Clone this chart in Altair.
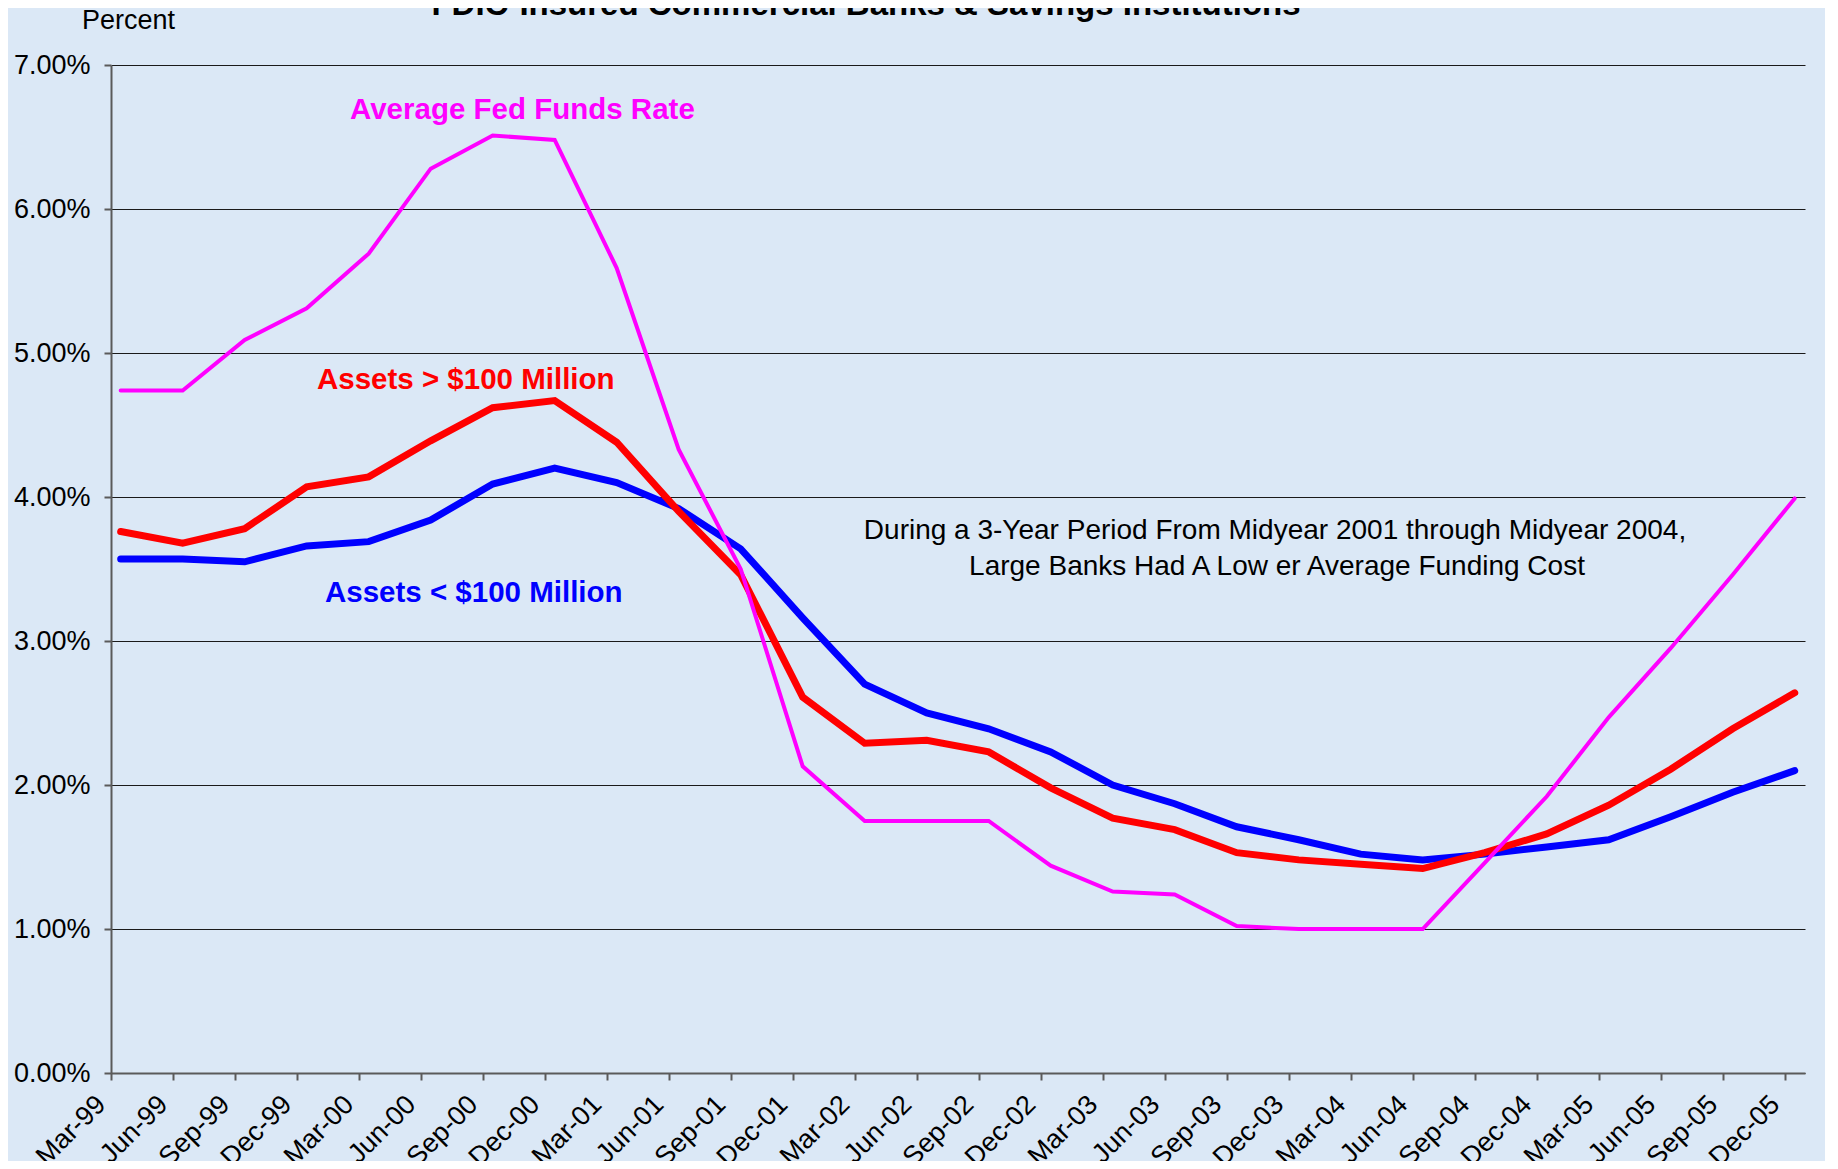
import json
import altair as alt
import pandas as pd

quarters = ["Mar-99", "Jun-99", "Sep-99", "Dec-99",
            "Mar-00", "Jun-00", "Sep-00", "Dec-00",
            "Mar-01", "Jun-01", "Sep-01", "Dec-01",
            "Mar-02", "Jun-02", "Sep-02", "Dec-02",
            "Mar-03", "Jun-03", "Sep-03", "Dec-03",
            "Mar-04", "Jun-04", "Sep-04", "Dec-04",
            "Mar-05", "Jun-05", "Sep-05", "Dec-05"]

fed_funds = [4.74, 4.74, 5.09, 5.31, 5.69, 6.28, 6.51, 6.48,
             5.59, 4.33, 3.50, 2.13, 1.75, 1.75, 1.75, 1.44,
             1.26, 1.24, 1.02, 1.00, 1.00, 1.00, 1.46, 1.92,
             2.47, 2.95, 3.46, 3.99]

large_banks = [3.76, 3.68, 3.78, 4.07, 4.14, 4.39, 4.62, 4.67,
               4.38, 3.90, 3.46, 2.61, 2.29, 2.31, 2.23, 1.98,
               1.77, 1.69, 1.53, 1.48, 1.45, 1.42, 1.53, 1.66,
               1.86, 2.11, 2.39, 2.64]

small_banks = [3.57, 3.57, 3.55, 3.66, 3.69, 3.84, 4.09, 4.20,
               4.10, 3.92, 3.64, 3.16, 2.70, 2.50, 2.39, 2.23,
               2.00, 1.87, 1.71, 1.62, 1.52, 1.48, 1.52, 1.57,
               1.62, 1.78, 1.95, 2.10]

series_names = ["Average Fed Funds Rate", "Assets > $100 Million", "Assets < $100 Million"]

frames = []
for name, vals in zip(series_names, [fed_funds, large_banks, small_banks]):
    frames.append(pd.DataFrame({"idx": list(range(len(quarters))),
                                "quarter": quarters,
                                "series": name,
                                "value": vals}))
df = pd.concat(frames, ignore_index=True)

FONT = "Liberation Sans"
OFF = 0.156
x_scale = alt.Scale(domain=[-OFF, len(quarters) - 1 + 0.166], nice=False, zero=False)
y_scale = alt.Scale(domain=[0, 7], nice=False, zero=True)

x_axis = alt.Axis(
    values=[k - OFF for k in range(len(quarters))],
    labelExpr=f"{json.dumps(quarters)}[round(datum.value + {OFF})]",
    labelAngle=315, labelAlign="right", labelBaseline="middle",
    labelPadding=20, labelOffset=-10, tickSize=7, grid=False, title=None,
    labelFontSize=27, labelFont=FONT, labelColor="black",
    domainColor="#5a5a5a", domainWidth=2, tickColor="#5a5a5a", tickWidth=2,
    labelOverlap=False, labelBound=False, labelFlush=False,
)
y_axis = alt.Axis(
    values=[0, 1, 2, 3, 4, 5, 6, 7],
    labelExpr="format(datum.value, '.2f') + '%'",
    tickSize=7, labelPadding=14, grid=True, gridColor="#1a1a1a", gridWidth=1,
    title=None, labelFontSize=27, labelFont=FONT, labelColor="black",
    domainColor="#5a5a5a", domainWidth=2, tickColor="#5a5a5a", tickWidth=2,
    labelOverlap=False, labelFlush=False,
)

base = alt.Chart(df).encode(
    x=alt.X("idx:Q", scale=x_scale, axis=x_axis),
    y=alt.Y("value:Q", scale=y_scale, axis=y_axis),
)

line_blue = base.transform_filter(alt.datum.series == series_names[2]).mark_line(
    color="#0000ff", strokeWidth=7, strokeCap="round")
line_red = base.transform_filter(alt.datum.series == series_names[1]).mark_line(
    color="#ff0000", strokeWidth=7, strokeCap="round")
line_mag = base.transform_filter(alt.datum.series == series_names[0]).mark_line(
    color="#ff00ff", strokeWidth=4, strokeCap="round")


def label(text, x, y, size, color="black", weight="normal", align="left"):
    return alt.Chart(alt.Data(values=[{}])).mark_text(
        text=text, font=FONT, fontSize=size, fontWeight=weight, color=color,
        align=align, baseline="alphabetic",
    ).encode(x=alt.value(x), y=alt.value(y))


title_txt = label("FDIC-Insured Commercial Banks & Savings Institutions", 755, -50, 33,
                  weight="bold", align="center")
percent_txt = label("Percent", -29, -36, 27)
fed_txt = label(series_names[0], 239, 54, 29.5, color="#ff00ff", weight="bold")
large_txt = label(series_names[1], 206, 324, 29.5, color="#ff0000", weight="bold")
small_txt = label(series_names[2], 214, 537, 29.5, color="#0000ff", weight="bold")
note1 = label("During a 3-Year Period From Midyear 2001 through  Midyear 2004,", 1164, 474, 28,
              align="center")
note2 = label("Large Banks Had A Low er Average Funding Cost", 1166, 510, 28, align="center")

chart = alt.layer(
    line_blue, line_red, line_mag,
    title_txt, percent_txt, fed_txt, large_txt, small_txt, note1, note2,
).properties(
    width=1694, height=1008,
    autosize=alt.AutoSizeParams(type="none"),
    padding={"left": 103, "top": 57, "right": 20, "bottom": 88},
    background="#dbe8f6",
).configure_view(stroke=None)

chart.save("out.html", embed_options={"renderer": "svg", "actions": False})
